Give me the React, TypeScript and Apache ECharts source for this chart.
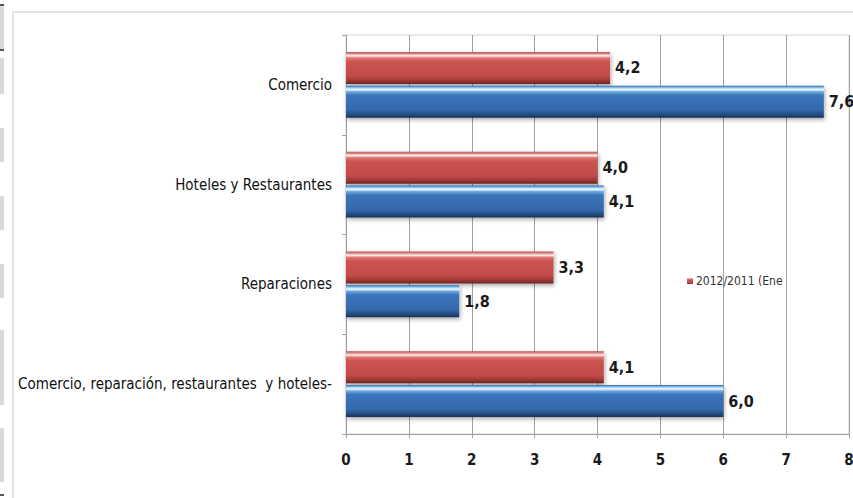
import React, { useEffect, useRef } from "react";
import * as echarts from "echarts";

const categories = [
  "Comercio",
  "Hoteles y Restaurantes",
  "Reparaciones",
  "Comercio, reparación, restaurantes  y hoteles-",
];
const redName = "2012/2011 (Ene";
const blueName = "2011/2010 (Ene";
const redValues = [4.2, 4.0, 3.3, 4.1];
const blueValues = [7.6, 4.1, 1.8, 6.0];
const xTicks = [0, 1, 2, 3, 4, 5, 6, 7, 8];

const NARROW = '"Liberation Sans Narrow", "DejaVu Sans Condensed", "Liberation Sans", sans-serif';

const redGrad = new echarts.graphic.LinearGradient(0, 0, 0, 1, [
  { offset: 0, color: "#b8504d" },
  { offset: 0.06, color: "#e08a87" },
  { offset: 0.12, color: "#fff2f2" },
  { offset: 0.19, color: "#e07572" },
  { offset: 0.3, color: "#cb5451" },
  { offset: 0.75, color: "#c24c49" },
  { offset: 0.9, color: "#9c3835" },
  { offset: 1, color: "#6e2422" },
]);
const blueGrad = new echarts.graphic.LinearGradient(0, 0, 0, 1, [
  { offset: 0, color: "#3566a8" },
  { offset: 0.06, color: "#8ccaf5" },
  { offset: 0.12, color: "#f2fbff" },
  { offset: 0.19, color: "#6aa7e0" },
  { offset: 0.3, color: "#3b74ba" },
  { offset: 0.75, color: "#3569ad" },
  { offset: 0.9, color: "#244c80" },
  { offset: 1, color: "#172f52" },
]);

const fmt = (p: any) => String(Number(p.value).toFixed(1)).replace(".", ",");

export default function App() {
  const ref = useRef<HTMLDivElement>(null);
  useEffect(() => {
    if (!ref.current) return;
    const chart = echarts.init(ref.current, undefined, { renderer: "svg" });
    const labelCfg = {
      show: true,
      position: "right" as const,
      distance: 5,
      formatter: fmt,
      fontFamily: NARROW,
      fontWeight: "bold" as const,
      fontSize: 16,
      color: "#1a1a1a",
    };
    const leftStrips = [
      [6, 44],
      [58, 36],
      [128, 34],
      [196, 34],
      [264, 34],
      [330, 34],
      [361, 44],
      [428, 54],
    ];
    chart.setOption({
      animation: false,
      backgroundColor: "#ffffff",
      graphic: [
        {
          type: "polyline",
          shape: { points: [[13, 498], [13, 12], [853, 12]] },
          style: { stroke: "#e4e4e4", lineWidth: 2, fill: "none" },
          silent: true,
        },
        ...leftStrips.map(([y, h]) => ({
          type: "rect",
          shape: { x: 0, y, width: 4, height: h },
          style: { fill: "#d9d9d9" },
          silent: true,
        })),
        {
          type: "rect",
          shape: { x: 0, y: 4, width: 4, height: 2 },
          style: { fill: "#555" },
          silent: true,
        },
        {
          type: "rect",
          shape: { x: 0, y: 49, width: 4, height: 2 },
          style: { fill: "#555" },
          silent: true,
        },
        {
          type: "rect",
          shape: { x: 0, y: 494, width: 4, height: 2 },
          style: { fill: "#555" },
          silent: true,
        },
      ],
      legend: {
        data: [redName],
        left: 682,
        top: 270,
        itemWidth: 6,
        itemHeight: 6,
        itemGap: 4,
        icon: "rect",
        textStyle: { fontFamily: NARROW, fontSize: 12, color: "#333", padding: [0, 0, 0, -2] },
      },
      grid: {
        left: 346,
        right: 4,
        top: 35,
        bottom: 64,
        containLabel: false,
        outerBoundsMode: "none",
        show: true,
        borderColor: "#d6d6d6",
        borderWidth: 1,
      },
      xAxis: {
        type: "value",
        min: xTicks[0],
        max: xTicks[xTicks.length - 1],
        interval: 1,
        axisLine: { show: true, lineStyle: { color: "#a0a0a0" } },
        axisTick: { show: true, length: 4, lineStyle: { color: "#a0a0a0" } },
        splitLine: { show: true, lineStyle: { color: "#a0a0a0", width: 1 } },
        axisLabel: {
          margin: 18,
          fontFamily: NARROW,
          fontWeight: "bold",
          fontSize: 15,
          color: "#1a1a1a",
        },
      },
      yAxis: {
        type: "category",
        inverse: true,
        data: categories,
        axisLine: { show: true, lineStyle: { color: "#a0a0a0" } },
        axisTick: { show: true, length: 4, lineStyle: { color: "#a0a0a0" } },
        axisLabel: {
          margin: 14,
          fontFamily: NARROW,
          fontSize: 15,
          color: "#111",
        },
      },
      series: [
        {
          name: redName,
          type: "bar",
          data: redValues,
          barWidth: 32,
          barGap: "6%",
          itemStyle: {
            color: redGrad,
            shadowColor: "rgba(0,0,0,0.35)",
            shadowBlur: 4,
            shadowOffsetX: 1,
            shadowOffsetY: 2,
          },
          label: labelCfg,
        },
        {
          name: blueName,
          type: "bar",
          data: blueValues,
          barWidth: 32,
          barGap: "6%",
          itemStyle: {
            color: blueGrad,
            shadowColor: "rgba(0,0,0,0.35)",
            shadowBlur: 4,
            shadowOffsetX: 1,
            shadowOffsetY: 2,
          },
          label: labelCfg,
        },
      ],
    });
    return () => chart.dispose();
  }, []);
  return (
    <div
      ref={ref}
      style={{ position: "absolute", left: 0, top: 0, width: 853, height: 498 }}
    />
  );
}
